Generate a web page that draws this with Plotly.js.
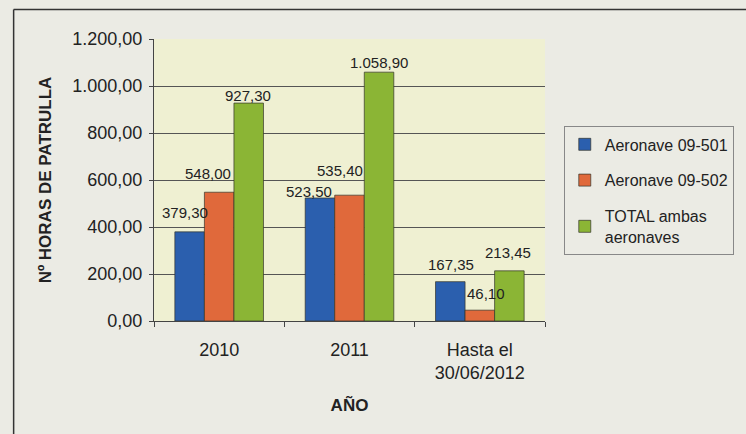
<!DOCTYPE html>
<html><head><meta charset="utf-8">
<script src="https://cdn.plot.ly/plotly-3.0.1.min.js"></script>
<style>html,body{margin:0;padding:0;background:#ebebe4;}#c{width:746px;height:434px;}</style>
</head><body><div id="c"></div>
<script>
const categories = ['2010', '2011', 'Hasta el<br>30/06/2012'];
const seriesNames = ['Aeronave 09-501', 'Aeronave 09-502', 'TOTAL ambas<br>aeronaves'];
const a501 = [379.30, 523.50, 167.35];
const a502 = [548.00, 535.40, 46.10];
const total = [927.30, 1058.90, 213.45];
const yTicks = [0, 200, 400, 600, 800, 1000, 1200];

// styling / label placement (pixels), not data
const colors = ['#2b5fae', '#e0693b', '#8bb535'];
const barShift = [-30, 0, 30];
const labelDx = [[-4, -11, 1], [-11, -10, 6], [-1, -1, -2]];
const labelDy = [[19, 6, 17], [19, 25, 17], [8, 10, 18]];

function fmt(v) {
  const parts = v.toFixed(2).split('.');
  parts[0] = parts[0].replace(/\B(?=(\d{3})+(?!\d))/g, '.');
  return parts[0] + ',' + parts[1];
}

const series = [a501, a502, total];
const traces = series.map((vals, i) => ({
  type: 'bar', x: categories, y: vals, name: seriesNames[i], legendgroup: 'g' + i,
  marker: {color: colors[i], line: {color: '#33332a', width: 0.7}}
}));

const annotations = [];
series.forEach((vals, i) => {
  vals.forEach((v, j) => {
    annotations.push({
      x: categories.indexOf(categories[j]), y: v, xref: 'x', yref: 'y', text: fmt(v), showarrow: false,
      xanchor: 'center', yanchor: 'middle',
      xshift: barShift[i] + labelDx[i][j], yshift: labelDy[i][j],
      font: {family: 'Liberation Sans, Arial, sans-serif', size: 15, color: '#222'}
    });
  });
});

const layout = {
  width: 746, height: 434,
  paper_bgcolor: '#ebebe4', plot_bgcolor: '#eff0d2',
  margin: {l: 154, r: 198, t: 39, b: 113},
  barmode: 'group', bargap: 0.32, bargroupgap: 0,
  font: {family: 'Liberation Sans, Arial, sans-serif', size: 16, color: '#222'},
  xaxis: {
    type: 'category', range: [-0.5, categories.length - 0.5],
    showline: true, linecolor: '#444', linewidth: 1,
    ticks: 'outside', tickson: 'boundaries', ticklen: 5, tickcolor: '#444',
    tickfont: {size: 18}, tickangle: 0, showgrid: false, ticklabelstandoff: 12,
    title: {text: '<b>AÑO</b>', font: {size: 17}, standoff: 17}
  },
  yaxis: {
    range: [0, 1200], tickvals: yTicks, ticktext: yTicks.map(fmt),
    showline: true, linecolor: '#444', linewidth: 1,
    ticks: 'outside', ticklen: 4, tickcolor: '#444',
    gridcolor: '#555', gridwidth: 1, zeroline: false,
    tickfont: {size: 18}, ticklabelstandoff: 3,
    title: {text: '<b>Nº HORAS DE PATRULLA</b>', font: {size: 17}, standoff: 16}
  },
  legend: {
    x: 1.048, y: 0.69, xanchor: 'left', yanchor: 'top',
    bgcolor: '#ebebe4', bordercolor: '#888', borderwidth: 1,
    font: {size: 16}, tracegroupgap: 12, itemwidth: 30
  },
  annotations: annotations,
  shapes: [
    {type: 'line', xref: 'paper', yref: 'paper', x0: -0.359, x1: 1.6, y0: 1.105, y1: 1.105, line: {color: '#333', width: 1.5}},
    {type: 'line', xref: 'paper', yref: 'paper', x0: -0.359, x1: -0.359, y0: 1.105, y1: -0.5, line: {color: '#333', width: 1.5}}
  ]
};
Plotly.newPlot('c', traces, layout, {displayModeBar: false, staticPlot: true});
</script></body></html>
